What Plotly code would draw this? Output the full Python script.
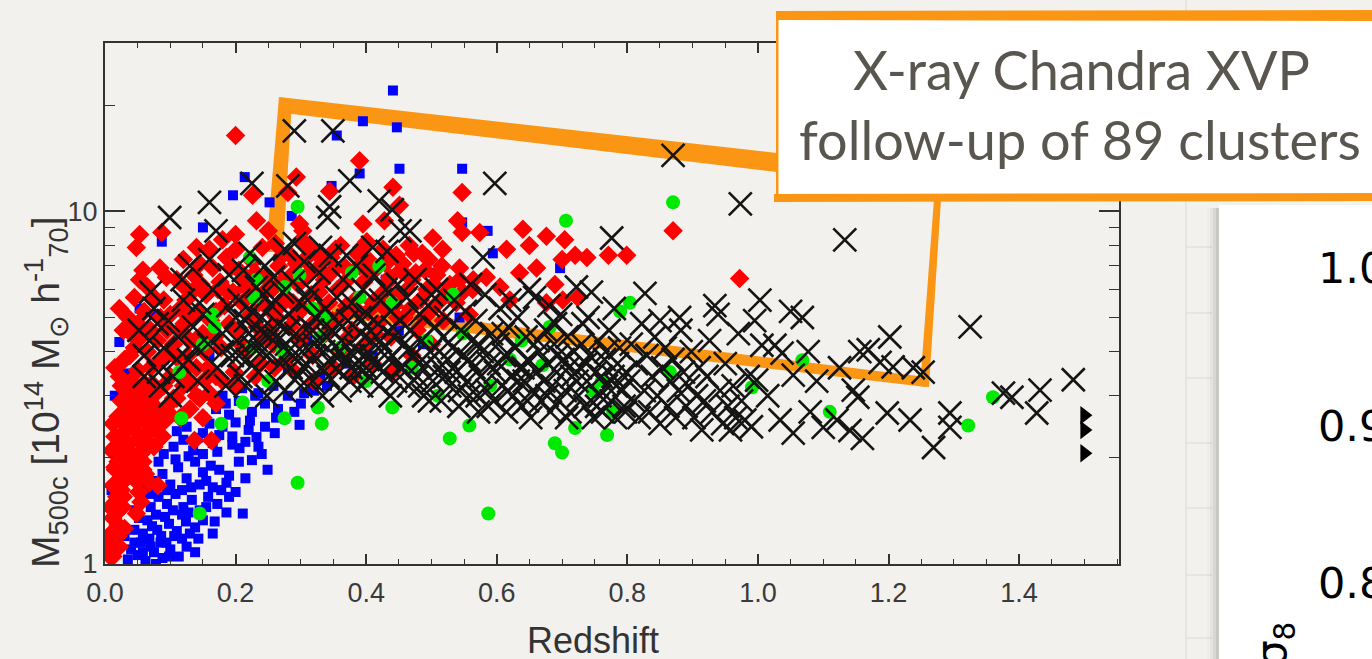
import plotly.graph_objects as go

# ---------------- data (redshift, M500c [1e14 Msun/h70]) ----------------
blue_squares = [
    (0.035,1.03),(0.050,1.06),(0.062,1.02),(0.075,1.08),(0.088,1.04),(0.100,1.10),(0.113,1.05),(0.125,1.12),
    (0.055,1.15),(0.070,1.12),(0.085,1.15),(0.030,1.20),(0.045,1.25),(0.058,1.22),(0.072,1.28),(0.086,1.20),
    (0.098,1.30),(0.110,1.24),(0.124,1.32),(0.138,1.27),(0.150,1.33),(0.168,1.32),(0.065,1.33),(0.092,1.36),
    (0.118,1.38),(0.045,1.42),(0.058,1.50),(0.070,1.45),(0.082,1.55),(0.095,1.48),(0.108,1.58),(0.120,1.45),
    (0.133,1.52),(0.145,1.42),(0.158,1.55),(0.172,1.48),(0.186,1.40),(0.211,1.39),(0.165,1.65),(0.200,1.60),
    (0.186,1.70),(0.062,1.65),(0.075,1.72),(0.088,1.80),(0.100,1.68),(0.112,1.88),(0.125,1.75),(0.138,1.95),
    (0.150,1.82),(0.162,1.90),(0.175,1.85),(0.190,1.78),(0.205,1.95),(0.249,1.85),(0.225,1.97),(0.118,1.62),
    (0.145,1.68),(0.090,2.05),(0.105,2.15),(0.120,2.25),(0.135,2.10),(0.150,2.35),(0.165,2.20),(0.180,2.45),
    (0.195,2.30),(0.206,2.13),(0.220,2.40),(0.232,2.29),(0.240,2.05),(0.125,2.45),(0.160,2.50),(0.298,2.48),
    (0.150,2.60),(0.170,2.75),(0.190,2.65),(0.205,2.90),(0.225,2.70),(0.245,2.85),(0.262,2.60),(0.280,3.00),
    (0.300,2.85),(0.320,3.10),(0.210,3.15),(0.235,3.05),(0.258,3.20),(0.340,3.20),(0.180,3.00),
    (0.040,1.10),(0.068,1.18),(0.080,1.25),(0.094,1.15),(0.106,1.20),(0.118,1.18),(0.130,1.22),(0.143,1.18),
    (0.052,1.35),(0.078,1.38),(0.104,1.42),(0.128,1.40),(0.155,1.45),(0.068,1.58),(0.095,1.62),(0.132,1.65),
    (0.155,1.72),(0.178,1.62),(0.082,1.95),(0.108,1.98),(0.128,2.02),(0.150,2.05),(0.172,2.08),(0.195,2.18),
    (0.215,2.22),(0.142,2.28),(0.175,2.32),(0.110,2.38),(0.200,2.52),(0.222,2.55),(0.245,2.45),(0.185,2.85),
    (0.265,2.75),(0.290,2.70),(0.230,3.00),(0.305,3.05),(0.098,1.05),(0.078,1.00),(0.058,1.08),(0.045,1.15),
    (0.138,1.08),(0.165,1.22),(0.190,1.55),(0.215,1.75),(0.235,2.15),(0.260,2.35),
    (0.441,22.0),(0.395,18.0),(0.447,17.3),(0.355,16.4),(0.451,13.2),(0.547,13.2),(0.390,12.8),(0.347,11.8),
    (0.214,12.5),(0.196,11.1),(0.252,10.6),(0.150,9.0),(0.087,8.2),(0.286,9.7),(0.071,5.8),(0.053,5.3),
    (0.022,4.26),(0.033,3.47),(0.010,1.62),(0.547,9.3),(0.586,8.8),(0.594,7.6),(0.697,6.9),(0.502,6.7),
    (0.543,5.0),(0.487,4.2),(0.120,4.5),(0.160,3.9),(0.190,5.8),(0.230,4.7),(0.270,6.2),(0.310,4.3),
    (0.350,7.0),(0.390,5.2),(0.430,6.4),(0.060,4.7),(0.090,3.8),(0.075,5.1),(0.040,3.2),(0.015,3.0),
    (0.020,2.2),(0.130,6.0),(0.280,3.6),(0.330,3.4),(0.370,3.7),(0.410,3.9),(0.450,4.6),(0.480,5.5),
]

red_diamonds = [
    # low-redshift band
    (0.010,1.17),(0.020,1.29),(0.022,1.47),(0.012,1.67),(0.016,1.85),(0.030,2.03),(0.045,2.40),(0.038,2.73),
    (0.068,2.90),(0.084,2.55),(0.060,2.10),(0.012,2.50),(0.015,1.88),(0.027,1.45),(0.048,1.39),(0.010,1.22),
    (0.022,1.12),(0.030,1.26),(0.081,1.67),(0.137,2.24),(0.163,2.24),(0.025,1.62),(0.033,1.75),(0.040,1.95),
    (0.035,2.20),(0.050,2.25),(0.055,2.60),(0.042,2.05),(0.028,2.35),(0.020,2.62),(0.058,1.95),(0.065,2.35),
    (0.072,2.70),(0.078,3.05),(0.090,3.20),(0.095,2.80),(0.100,3.40),(0.105,2.95),(0.088,2.30),(0.075,2.15),
    (0.062,1.80),(0.052,1.60),(0.045,1.78),(0.030,1.88),(0.018,2.05),(0.025,2.90),(0.032,3.10),
    (0.040,3.30),(0.050,3.55),(0.060,3.25),(0.070,3.60),(0.085,3.75),(0.110,3.85),(0.120,3.20),(0.125,3.60),
    (0.115,2.60),(0.130,2.75),(0.145,2.95),(0.150,2.60),(0.160,3.05),(0.018,1.40),
    (0.008,1.05),(0.055,1.50),(0.068,1.70),(0.060,2.55),(0.048,2.85),(0.022,3.40),(0.030,3.80),(0.045,4.10),
    (0.055,4.40),(0.065,4.00),(0.080,4.30),(0.095,4.60),(0.105,4.20),(0.028,4.60),
    (0.005,1.10),(0.012,1.35),(0.018,1.55),(0.008,1.45),(0.015,1.25),(0.025,1.75),(0.020,1.95),(0.010,2.10),
    (0.028,2.15),(0.035,2.45),(0.025,2.55),(0.015,2.30),(0.040,2.60),(0.032,2.85),(0.045,2.95),(0.052,3.10),
    (0.058,2.80),(0.065,3.00),(0.072,3.25),(0.080,2.75),(0.092,2.55),(0.100,2.65),(0.110,2.95),(0.118,3.40),
    (0.132,3.25),(0.140,3.00),(0.155,3.35),(0.170,2.85),(0.180,3.30),(0.015,3.60),(0.025,3.20),(0.038,3.90),
    (0.050,4.80),(0.060,5.20),(0.070,4.60),(0.085,5.00),(0.090,5.60),(0.100,5.10),(0.075,5.70),(0.065,6.10),
    (0.040,4.50),(0.035,5.00),(0.095,3.90),(0.115,4.60),(0.130,4.30),(0.045,1.95),(0.055,2.05),(0.068,2.20),
    (0.078,2.45),(0.088,2.70),(0.048,1.72),(0.058,1.85),(0.028,1.55),(0.020,1.20),
    (0.012,1.05),
    # main body
    (0.121,4.8),(0.124,5.6),(0.118,6.2),(0.127,3.9),(0.138,4.3),(0.142,5.2),(0.136,6.6),(0.145,7.1),
    (0.158,3.6),(0.162,4.9),(0.155,5.8),(0.165,6.9),(0.178,4.1),(0.183,5.4),(0.176,6.3),(0.186,7.4),
    (0.198,3.5),(0.203,4.6),(0.196,5.9),(0.205,6.8),(0.201,7.8),(0.218,4.0),(0.223,5.1),(0.216,6.1),
    (0.226,7.2),(0.238,3.7),(0.243,4.4),(0.236,5.5),(0.246,6.5),(0.241,7.9),(0.258,4.2),(0.263,5.0),
    (0.256,6.0),(0.266,7.0),(0.261,8.1),(0.278,3.8),(0.283,4.7),(0.276,5.7),(0.286,6.6),(0.281,7.6),
    (0.298,4.3),(0.303,5.3),(0.296,6.2),(0.306,7.3),(0.301,8.3),(0.318,3.9),(0.323,4.9),(0.316,5.8),
    (0.326,6.9),(0.321,7.7),(0.338,4.5),(0.343,5.5),(0.336,6.4),(0.346,7.4),(0.358,4.0),(0.363,5.1),
    (0.356,6.0),(0.366,7.0),(0.361,8.0),(0.378,4.6),(0.383,5.6),(0.376,6.7),(0.386,7.6),(0.398,4.2),
    (0.403,5.2),(0.396,6.3),(0.406,7.2),(0.401,8.2),(0.418,4.8),(0.423,5.8),(0.416,6.9),(0.426,7.8),
    (0.438,4.4),(0.443,5.4),(0.436,6.5),(0.446,7.5),(0.458,5.0),(0.463,6.0),(0.456,7.1),(0.466,8.0),
    (0.478,4.6),(0.483,5.6),(0.476,6.7),(0.486,7.6),(0.498,5.2),(0.503,6.2),(0.496,7.3),(0.518,4.9),
    (0.523,5.9),(0.516,7.0),(0.538,5.5),(0.543,6.4),(0.558,5.1),(0.563,6.0),
    (0.130,5.0),(0.150,4.5),(0.170,5.2),(0.190,4.8),(0.210,5.5),(0.230,6.7),(0.250,5.3),(0.270,6.3),
    (0.290,5.0),(0.310,6.6),(0.330,5.3),(0.350,6.8),(0.370,5.4),(0.390,7.0),(0.410,5.5),(0.430,7.1),
    (0.450,5.8),(0.470,6.4),(0.490,6.8),(0.510,5.5),(0.140,3.6),(0.170,3.4),(0.200,3.2),(0.230,3.4),
    (0.260,3.6),(0.290,3.5),(0.320,3.3),(0.350,3.6),(0.380,3.4),(0.410,3.7),(0.440,3.5),(0.470,3.9),
    (0.500,4.2),
    (0.115,5.3),(0.133,5.9),(0.147,6.2),(0.152,4.0),(0.168,4.4),(0.173,6.0),(0.188,5.9),(0.192,6.9),
    (0.208,4.2),(0.213,6.4),(0.228,5.8),(0.233,4.7),(0.248,6.0),(0.253,4.6),(0.268,5.4),(0.272,7.5),
    (0.288,5.5),(0.293,7.1),(0.308,4.6),(0.313,7.9),(0.328,5.9),(0.333,7.3),(0.348,4.9),(0.353,7.8),
    (0.368,6.3),(0.373,4.4),(0.388,5.2),(0.393,7.9),(0.408,6.7),(0.413,4.5),(0.428,5.3),(0.433,6.3),
    (0.448,5.0),(0.453,6.8),(0.468,5.3),(0.473,7.6),(0.488,5.0),(0.493,6.0),(0.508,6.6),(0.528,6.2),
    (0.548,5.9),(0.120,7.3),(0.160,7.8),(0.200,8.6),(0.250,8.8),(0.180,8.3),(0.140,7.9),
    # scattered
    (0.200,16.4),(0.053,8.6),(0.048,7.9),(0.087,8.7),(0.232,9.4),(0.226,11.1),(0.280,11.3),(0.298,9.2),
    (0.303,8.8),(0.344,11.4),(0.441,11.7),(0.451,10.4),(0.428,9.4),(0.395,9.2),(0.022,5.3),(0.058,6.8),
    (0.084,6.9),(0.094,6.5),(0.110,6.4),(0.053,6.4),(0.045,5.7),(0.547,11.3),(0.540,9.4),(0.547,8.7),
    (0.574,8.7),(0.502,8.4),(0.517,7.8),(0.640,8.9),(0.676,8.5),(0.704,8.3),(0.650,8.0),(0.615,7.8),
    (0.720,7.5),(0.738,7.4),(0.771,7.5),(0.799,7.5),(0.661,6.9),(0.635,6.7),(0.700,7.3),(0.689,6.2),
    (0.701,5.6),(0.724,5.7),(0.870,8.8),(0.972,6.45),(0.543,6.9),(0.584,6.5),(0.605,6.1),(0.620,5.6),
    (0.676,5.5),(0.564,6.4),(0.390,13.9),(0.293,12.5),
]

green_circles = [
    (0.295,10.3),(0.706,9.4),(0.870,10.6),(0.222,7.4),(0.232,6.4),(0.229,5.7),(0.165,5.1),(0.168,4.7),
    (0.150,4.2),(0.114,3.5),(0.225,4.1),(0.275,6.1),(0.298,6.6),(0.378,6.7),(0.420,7.0),(0.390,5.7),
    (0.440,5.5),(0.318,5.3),(0.339,5.0),(0.330,4.4),(0.360,4.1),(0.272,4.0),(0.117,2.59),(0.178,2.50),
    (0.275,2.59),(0.332,2.50),(0.295,1.70),(0.145,1.39),(0.211,2.87),(0.326,2.78),(0.440,2.78),(0.789,5.2),
    (0.804,5.5),(0.681,4.7),(0.865,3.5),(0.778,2.7),(0.720,2.43),(0.769,2.32),(0.558,2.47),(0.528,2.27),
    (0.638,4.3),(0.620,3.8),(0.670,3.66),(0.548,4.5),(0.533,5.8),(0.747,3.1),(0.761,3.3),(0.492,4.3),
    (0.587,1.39),(0.689,2.20),(0.700,2.07),(1.068,3.78),(0.991,3.17),(1.110,2.70),(1.322,2.47),(1.360,2.97),
    (0.590,3.2),(0.470,3.6),(0.510,3.0),(0.250,3.3),(0.400,3.3),
]

black_crosses = [
    # high-mass outliers
    (0.290,16.9),(0.349,16.9),(0.225,12.0),(0.280,11.8),(0.375,12.2),(0.160,10.6),(0.099,9.6),(0.344,10.3),
    (0.341,9.6),(0.420,10.7),(0.170,8.8),(0.440,10.1),(0.452,8.8),(0.597,12.0),(0.870,14.4),(0.973,10.5),
    (0.776,8.4),(1.133,8.3),(0.467,8.8),(0.579,7.4),
    # z 0.05-0.2
    (0.052,4.6),(0.060,3.9),(0.068,4.3),(0.075,5.3),(0.082,3.5),(0.090,4.1),(0.097,4.9),(0.104,3.4),
    (0.112,4.4),(0.120,5.6),(0.128,3.8),(0.135,4.7),(0.142,3.3),(0.150,5.1),(0.158,4.2),(0.165,6.0),
    (0.172,3.6),(0.180,4.5),(0.188,5.4),(0.195,3.9),(0.070,5.9),(0.118,6.4),(0.145,5.5),(0.185,3.2),
    (0.085,3.2),(0.100,3.0),(0.130,7.0),(0.160,7.3),(0.190,6.6),
    (0.200,5.0),(0.180,4.0),(0.140,4.1),(0.110,3.8),(0.080,4.8),(0.060,3.4),
    # z 0.2-0.45
    (0.202,4.3),(0.205,5.6),(0.208,3.4),(0.212,6.8),(0.215,4.9),(0.218,3.8),(0.222,7.6),(0.225,5.2),
    (0.228,4.1),(0.232,6.1),(0.235,3.5),(0.238,4.6),(0.242,5.8),(0.245,7.0),(0.248,3.9),(0.252,4.4),
    (0.255,5.4),(0.258,6.5),(0.262,3.3),(0.265,4.8),(0.268,3.7),(0.272,5.9),(0.275,7.8),(0.278,4.2),
    (0.282,5.1),(0.285,3.6),(0.288,6.3),(0.292,4.5),(0.295,3.4),(0.298,5.5),(0.302,4.0),(0.305,7.2),
    (0.308,3.7),(0.312,4.7),(0.315,6.0),(0.318,3.3),(0.322,5.0),(0.325,4.3),(0.328,6.7),(0.332,3.6),
    (0.335,4.0),(0.338,5.3),(0.342,3.4),(0.345,7.5),(0.348,4.6),(0.352,3.9),(0.355,5.7),(0.358,3.5),
    (0.362,4.3),(0.365,6.4),(0.368,3.8),(0.372,4.9),(0.375,3.3),(0.378,5.5),(0.382,4.1),(0.385,7.0),
    (0.388,3.6),(0.392,4.5),(0.395,6.0),(0.398,3.9),(0.402,5.1),(0.405,3.4),(0.408,4.3),(0.412,6.6),
    (0.415,3.7),(0.418,4.8),(0.422,5.6),(0.425,3.5),(0.428,4.1),(0.432,7.7),(0.435,3.8),(0.438,5.2),
    (0.442,4.4),(0.445,3.3),(0.448,6.2),(0.300,3.2),(0.320,3.9),(0.340,4.4),(0.360,3.1),(0.380,3.9),
    (0.400,4.7),(0.420,3.2),(0.440,3.9),(0.310,5.6),(0.350,5.0),(0.390,5.0),(0.430,6.0),(0.280,4.6),
    (0.260,5.6),(0.240,4.0),(0.220,4.5),(0.370,7.5),(0.330,7.9),(0.290,8.1),(0.410,7.9),
    (0.205,3.9),(0.215,3.2),(0.232,4.3),(0.248,3.0),(0.262,4.4),(0.275,3.1),(0.288,3.9),(0.305,3.6),
    (0.318,4.6),(0.333,3.0),(0.347,3.7),(0.363,4.7),(0.377,3.6),(0.393,3.2),(0.407,3.9),(0.422,4.3),
    (0.437,3.0),(0.440,4.7),(0.400,3.6),(0.360,4.0),(0.320,4.2),(0.280,4.0),(0.240,5.0),
    # z 0.45-0.8
    (0.452,4.9),(0.455,3.6),(0.458,4.2),(0.462,5.7),(0.465,3.2),(0.468,4.6),(0.472,3.9),(0.475,6.4),
    (0.478,3.4),(0.482,5.1),(0.485,4.3),(0.488,3.0),(0.492,3.7),(0.495,5.4),(0.498,4.0),(0.502,3.3),
    (0.505,4.7),(0.508,6.0),(0.512,3.6),(0.515,2.9),(0.518,4.4),(0.522,5.0),(0.525,3.8),(0.528,3.2),
    (0.532,4.1),(0.535,5.6),(0.538,3.5),(0.542,2.8),(0.545,4.6),(0.548,3.9),(0.552,5.2),(0.555,3.3),
    (0.558,3.0),(0.562,4.3),(0.565,3.6),(0.568,4.9),(0.572,2.7),(0.575,3.4),(0.578,4.0),(0.582,5.8),
    (0.585,3.1),(0.588,3.7),(0.592,4.5),(0.595,2.9),(0.598,3.5),(0.602,4.2),(0.605,5.3),(0.608,3.2),
    (0.612,3.9),(0.615,2.7),(0.618,4.7),(0.622,3.4),(0.625,3.0),(0.628,4.1),(0.632,5.0),(0.635,3.6),
    (0.638,2.8),(0.642,3.3),(0.645,4.4),(0.648,3.8),(0.652,2.6),(0.655,3.1),(0.658,5.7),(0.662,3.5),
    (0.665,4.0),(0.668,2.9),(0.672,3.3),(0.675,4.6),(0.678,3.7),(0.682,2.7),(0.685,3.2),(0.688,4.2),
    (0.692,3.5),(0.695,2.9),(0.698,5.1),(0.702,3.8),(0.705,3.1),(0.708,4.4),(0.712,2.7),(0.715,3.4),
    (0.718,4.0),(0.722,6.1),(0.725,3.0),(0.728,3.6),(0.732,4.8),(0.735,2.8),(0.738,3.3),(0.742,3.9),
    (0.745,5.9),(0.748,2.6),(0.752,3.5),(0.755,4.3),(0.758,3.0),(0.762,2.7),(0.765,3.8),(0.768,3.2),
    (0.772,4.6),(0.775,2.9),(0.778,3.4),(0.782,2.6),(0.785,3.7),(0.788,4.1),(0.792,3.1),(0.795,2.8),
    (0.798,3.5),(0.500,5.8),(0.560,6.2),(0.620,5.6),(0.680,5.4),(0.740,5.0),(0.780,5.3),(0.827,5.85),
    (0.650,6.0),
    (0.452,3.6),(0.467,4.1),(0.482,3.2),(0.497,2.9),(0.512,4.0),(0.527,3.5),(0.543,3.1),(0.557,3.8),
    (0.572,4.2),(0.587,2.8),(0.603,3.7),(0.617,3.1),(0.633,3.3),(0.647,2.9),(0.663,4.3),(0.677,3.0),
    (0.693,3.9),(0.707,2.6),(0.723,3.3),(0.737,3.7),(0.753,2.8),(0.767,4.0),(0.783,3.2),(0.797,2.7),
    (0.570,3.0),(0.610,4.5),(0.640,3.6),(0.690,4.8),(0.710,3.6),(0.730,4.2),(0.760,3.4),(0.520,3.4),
    (0.480,3.7),
    # z 0.8-1.0
    (0.802,3.3),(0.806,4.2),(0.810,2.9),(0.814,3.7),(0.818,2.6),(0.822,4.8),(0.826,3.1),(0.830,3.9),
    (0.834,2.7),(0.838,3.4),(0.842,4.4),(0.846,3.0),(0.850,2.5),(0.854,3.6),(0.858,4.1),(0.862,2.8),
    (0.866,3.3),(0.870,3.8),(0.874,2.6),(0.878,3.1),(0.882,4.6),(0.886,3.5),(0.890,2.8),(0.894,3.2),
    (0.898,4.0),(0.902,2.6),(0.906,3.0),(0.910,3.6),(0.914,2.4),(0.918,2.9),(0.922,3.4),(0.926,4.3),
    (0.930,2.7),(0.934,5.4),(0.939,5.1),(0.942,3.1),(0.946,2.5),(0.950,3.7),(0.954,2.8),(0.958,2.4),
    (0.962,3.2),(0.966,2.6),(0.970,4.5),(0.975,2.9),(0.980,2.56),(0.985,3.4),(0.990,2.45),(0.995,4.9),
    (0.880,5.0),(0.850,4.9),
    # z > 1
    (1.003,5.6),(1.068,5.0),(1.325,4.7),(1.202,4.4),(1.006,4.17),(1.026,4.17),(1.037,3.96),(1.077,4.0),
    (1.156,4.0),(1.169,4.05),(1.187,3.73),(1.207,3.62),(1.238,3.6),(1.253,3.5),(1.054,3.43),(0.998,3.32),
    (1.146,3.11),(1.153,2.97),(1.483,3.33),(1.376,3.05),(1.432,3.11),(1.427,2.68),(1.389,2.97),(1.034,2.56),
    (1.054,2.35),(1.100,2.44),(1.121,2.56),(1.141,2.39),(1.160,2.27),(1.198,2.68),(1.233,2.56),(1.294,2.68),
    (1.294,2.44),(1.269,2.14),(1.050,5.2),(1.015,3.0),(1.080,2.7),(1.125,3.6),(1.090,3.3),
]

upper_limits = [(1.50,2.64),(1.50,2.40),(1.50,2.06)]

x_tick_vals = [0.0,0.2,0.4,0.6,0.8,1.0,1.2,1.4]
x_tick_text = ["0.0","0.2","0.4","0.6","0.8","1.0","1.2","1.4"]
y_tick_vals = [1,10]
y_tick_text = ["1","10"]
y_minor_vals = [2,3,4,5,6,7,8,9,20]
card_labels = ["1.0","0.9","0.8"]
box_lines = ["X-ray Chandra XVP","follow-up of 89 clusters"]

# ---------------- geometry helpers (pixel -> paper) ----------------
W, H = 1372, 659
L, R, T, B = 105, 1119, 43, 564
def px(X): return (X - L) / (R - L)
def py(Y): return (B - Y) / (B - T)
def poly(pts):
    return "M " + " L ".join(f"{px(a):.5f},{py(b):.5f}" for a, b in pts) + " Z"

def xs(p): return [a for a, _ in p]
def ys(p): return [b for _, b in p]

fig = go.Figure()
fig.add_trace(go.Scatter(x=xs(blue_squares), y=ys(blue_squares), mode="markers",
                         marker=dict(symbol="square", size=10, color="#0000ff", line=dict(width=0))))
fig.add_trace(go.Scatter(x=xs(red_diamonds), y=ys(red_diamonds), mode="markers",
                         marker=dict(symbol="diamond", size=15, color="#ff0000", line=dict(width=0))))
fig.add_trace(go.Scatter(x=xs(green_circles), y=ys(green_circles), mode="markers",
                         marker=dict(symbol="circle", size=14, color="#00ea00", line=dict(width=0))))
fig.add_trace(go.Scatter(x=xs(black_crosses), y=ys(black_crosses), mode="markers",
                         marker=dict(symbol="x-thin", size=23, color="#151515",
                                     line=dict(width=2.6, color="#151515"))))
fig.add_trace(go.Scatter(x=xs(upper_limits), y=ys(upper_limits), mode="markers",
                         marker=dict(symbol="triangle-right", size=16, color="#000000", line=dict(width=0))))

ORANGE = "#fa9614"
shapes = []
# hand-drawn orange selection box (below markers)
shapes.append(dict(type="path", xref="paper", yref="paper", layer="below", line=dict(width=0),
                   fillcolor=ORANGE, path=poly([(279, 97), (777, 153), (777, 172), (284, 113)])))
shapes.append(dict(type="path", xref="paper", yref="paper", layer="below", line=dict(width=0),
                   fillcolor=ORANGE, path=poly([(279, 97), (292, 100), (283, 252), (266, 252)])))
shapes.append(dict(type="path", xref="paper", yref="paper", layer="below", line=dict(width=0),
                   fillcolor=ORANGE, path=poly([(332, 304), (926, 377), (926, 387), (332, 317)])))
shapes.append(dict(type="path", xref="paper", yref="paper", layer="below", line=dict(width=0),
                   fillcolor=ORANGE, path=poly([(934, 199), (941, 199), (929, 387), (920, 386)])))
# faint page texture lines
shapes.append(dict(type="line", xref="paper", yref="paper", layer="above",
                   x0=px(1186), x1=px(1186), y0=py(0), y1=py(659), line=dict(color="#e1e0dc", width=1.5)))
for yy in [247, 313, 378, 443, 508, 575, 638]:
    shapes.append(dict(type="line", xref="paper", yref="paper", layer="above",
                       x0=px(1186), x1=px(1212), y0=py(yy), y1=py(yy), line=dict(color="#e1e0dc", width=1.5)))
# right-hand card with soft shadow
for i, a in enumerate([0.02, 0.035, 0.05, 0.08]):
    shapes.append(dict(type="rect", xref="paper", yref="paper", layer="above", line=dict(width=0),
                       fillcolor=f"rgba(0,0,0,{a})", x0=px(1207 + 3 * i), x1=px(1219), y0=py(208), y1=py(670)))
shapes.append(dict(type="rect", xref="paper", yref="paper", layer="above", line=dict(width=0),
                   fillcolor="#ffffff", x0=px(1219), x1=px(1380), y0=py(205), y1=py(670)))
# annotation box
shapes.append(dict(type="rect", xref="paper", yref="paper", layer="above", line=dict(width=0),
                   fillcolor="#ffffff", x0=px(776), x1=px(1380), y0=py(14), y1=py(199)))
shapes.append(dict(type="path", xref="paper", yref="paper", layer="above", line=dict(width=0),
                   fillcolor=ORANGE, path=poly([(776, 11), (1380, 10), (1380, 21), (776, 20)])))
shapes.append(dict(type="path", xref="paper", yref="paper", layer="above", line=dict(width=0),
                   fillcolor=ORANGE, path=poly([(774, 194), (1380, 193), (1380, 201), (774, 202)])))
shapes.append(dict(type="path", xref="paper", yref="paper", layer="above", line=dict(width=0),
                   fillcolor=ORANGE, path=poly([(776, 12), (778.5, 12), (778.5, 202), (776, 202)])))

annotations = []
annotations.append(dict(xref="paper", yref="paper", x=px(1081), y=py(69), text=box_lines[0], showarrow=False,
                        xanchor="center", yanchor="middle", font=dict(family="Lato", size=54, color="#59554f")))
annotations.append(dict(xref="paper", yref="paper", x=px(1080), y=py(139), text=box_lines[1], showarrow=False,
                        xanchor="center", yanchor="middle", font=dict(family="Lato", size=54, color="#59554f")))
for lab, yy in zip(card_labels, [268, 426, 583]):
    annotations.append(dict(xref="paper", yref="paper", x=px(1316), y=py(yy), text=lab, showarrow=False,
                            xanchor="left", yanchor="middle", font=dict(family="DejaVu Sans", size=43, color="#000000")))
annotations.append(dict(xref="paper", yref="paper", x=px(1274), y=py(645), text="σ<sub>8</sub>", showarrow=False,
                        textangle=-90, xanchor="center", yanchor="middle",
                        font=dict(family="DejaVu Sans", size=42, color="#000000")))
annotations.append(dict(xref="paper", yref="paper", x=px(593), y=py(640), text="Redshift", showarrow=False,
                        xanchor="center", yanchor="middle", font=dict(family="Liberation Sans", size=36, color="#333333")))
annotations.append(dict(xref="paper", yref="paper", x=px(46), y=py(392),
                        text="M<sub>500c</sub> [10<sup>14</sup> M<sub>⊙</sub> h<sup>-1</sup><sub>70</sub>]",
                        showarrow=False, textangle=-90, xanchor="center", yanchor="middle",
                        font=dict(family="Liberation Sans", size=39, color="#333333")))

axis_common = dict(showline=True, linecolor="#333333", linewidth=2, mirror="ticks", ticks="inside",
                   tickcolor="#333333", tickwidth=1.6, showgrid=False, zeroline=False,
                   tickfont=dict(family="Liberation Sans", size=27, color="#3a3a3a"))
fig.update_layout(
    width=W, height=H, margin=dict(l=L, r=W - R, t=T, b=H - B, pad=0),
    paper_bgcolor="#f2f1ee", plot_bgcolor="rgba(0,0,0,0)", showlegend=False,
    xaxis=dict(range=[0, 1.553], tickmode="array", tickvals=x_tick_vals, ticktext=x_tick_text, ticklen=10,
               ticklabelstandoff=4,
               minor=dict(dtick=0.05, ticks="inside", ticklen=5, tickcolor="#333333", tickwidth=1.4, showgrid=False),
               **axis_common),
    yaxis=dict(type="log", range=[0, 1.4771], tickmode="array", tickvals=y_tick_vals, ticktext=y_tick_text,
               ticklen=20, minor=dict(tickmode="array", tickvals=y_minor_vals, ticks="inside", ticklen=10,
                                      tickcolor="#333333", tickwidth=1.4, showgrid=False),
               **axis_common),
    shapes=shapes, annotations=annotations,
)
fig.write_html("out.html")
